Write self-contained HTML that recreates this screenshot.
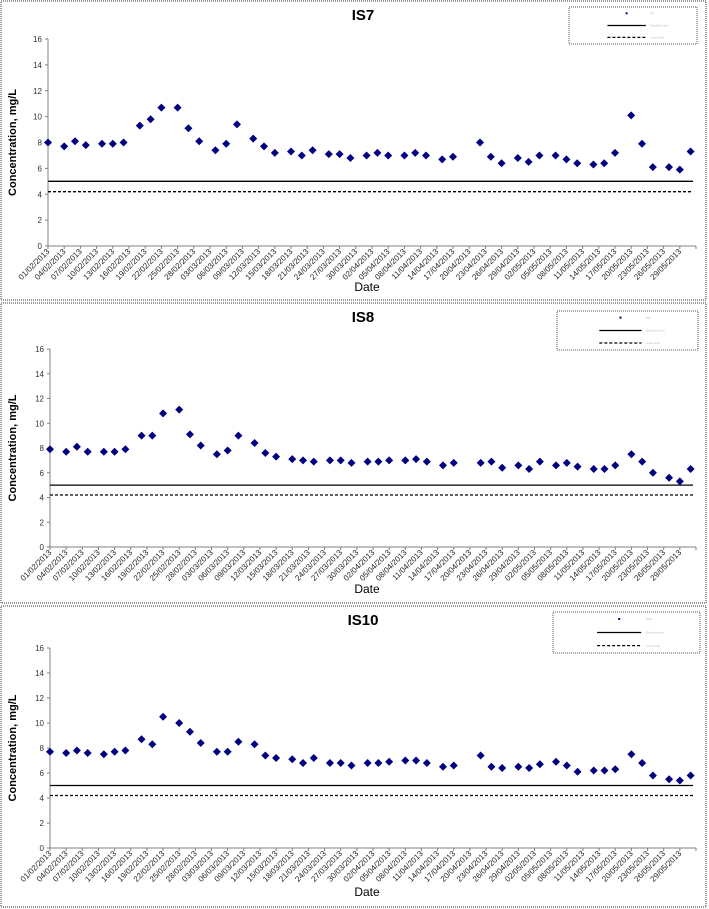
<!DOCTYPE html>
<html><head><meta charset="utf-8"><style>
body{margin:0;background:#fff;width:709px;height:909px;overflow:hidden;font-family:"Liberation Sans",Arial,sans-serif}
svg{display:block}
</style></head><body>
<svg id="svg" width="709" height="909" xmlns="http://www.w3.org/2000/svg"></svg>
<script>
// Data: day offsets from 01/02/2013 and concentrations
const is7Days=[0,3,5,7,10,12,14,17,19,21,24,26,28,31,33,35,38,40,42,45,47,49,52,54,56,59,61,63,66,68,70,73,75,80,82,84,87,89,91,94,96,98,101,103,105,108,110,112,115,117,119];
const is7Vals=[8.0,7.7,8.1,7.8,7.9,7.9,8.0,9.3,9.8,10.7,10.7,9.1,8.1,7.4,7.9,9.4,8.3,7.7,7.2,7.3,7.0,7.4,7.1,7.1,6.8,7.0,7.2,7.0,7.0,7.2,7.0,6.7,6.9,8.0,6.9,6.4,6.8,6.5,7.0,7.0,6.7,6.4,6.3,6.4,7.2,10.1,7.9,6.1,6.1,5.9,7.3];
const is8Days=[0,3,5,7,10,12,14,17,19,21,24,26,28,31,33,35,38,40,42,45,47,49,52,54,56,59,61,63,66,68,70,73,75,80,82,84,87,89,91,94,96,98,101,103,105,108,110,112,115,117,119];
const is8Vals=[7.9,7.7,8.1,7.7,7.7,7.7,7.9,9.0,9.0,10.8,11.1,9.1,8.2,7.5,7.8,9.0,8.4,7.6,7.3,7.1,7.0,6.9,7.0,7.0,6.8,6.9,6.9,7.0,7.0,7.1,6.9,6.6,6.8,6.8,6.9,6.4,6.6,6.3,6.9,6.6,6.8,6.5,6.3,6.3,6.6,7.5,6.9,6.0,5.6,5.3,6.3];
const is10Days=[0,3,5,7,10,12,14,17,19,21,24,26,28,31,33,35,38,40,42,45,47,49,52,54,56,59,61,63,66,68,70,73,75,80,82,84,87,89,91,94,96,98,101,103,105,108,110,112,115,117,119];
const is10Vals=[7.7,7.6,7.8,7.6,7.5,7.7,7.8,8.7,8.3,10.5,10.0,9.3,8.4,7.7,7.7,8.5,8.3,7.4,7.2,7.1,6.8,7.2,6.8,6.8,6.6,6.8,6.8,6.9,7.0,7.0,6.8,6.5,6.6,7.4,6.5,6.4,6.5,6.4,6.7,6.9,6.6,6.1,6.2,6.2,6.3,7.5,6.8,5.8,5.5,5.4,5.8];
const yTicks=[0,2,4,6,8,10,12,14,16];
const limitSolid=5.0;
const limitDashed=4.2;
const tickLabels=(()=>{const a=[];const base=new Date(Date.UTC(2013,1,1));for(let d=0;d<=117;d+=3){const t=new Date(base.getTime()+d*864e5);a.push(String(t.getUTCDate()).padStart(2,'0')+'/'+String(t.getUTCMonth()+1).padStart(2,'0')+'/2013');}return a;})();

const NS='http://www.w3.org/2000/svg';
const svg=document.getElementById('svg');
function mk(tag,attrs,parent){const e=document.createElementNS(NS,tag);for(const k in attrs)e.setAttribute(k,attrs[k]);(parent||svg).appendChild(e);return e;}

const panels=[
 {title:'IS7',days:is7Days,vals:is7Vals,top:0,bot:301,x0:48,x1:696,y16:39,y0:246,leg:[569,7,128,37],tx:363},
 {title:'IS8',days:is8Days,vals:is8Vals,top:302,bot:604,x0:50,x1:696,y16:349,y0:547,leg:[557,311,141,39],tx:363},
 {title:'IS10',days:is10Days,vals:is10Vals,top:605,bot:908,x0:50,x1:696,y16:648,y0:848,leg:[553,612,147,41],tx:363}
];
panels.forEach((p,pi)=>{
 const g=mk('g',{});
 
 
 const fr=mk('rect',{x:1,y:p.top+1,width:705,height:p.bot-p.top-2,fill:'#fff',stroke:'#333','stroke-width':1,'stroke-dasharray':'1,1'},g);
 
 
 const xs=d=>p.x0+(p.x1-p.x0)*d/120;
 const ys=v=>p.y0-(p.y0-p.y16)*v/16;
 const t=mk('text',{x:p.tx,y:p.top+20,'font-size':'15','font-weight':'bold','text-anchor':'middle'},g);t.textContent=p.title;
 
 
 const ya=mk('line',{x1:p.x0,y1:p.y16,x2:p.x0,y2:p.y0,stroke:'#808080'},g);
 
 
 const xa=mk('line',{x1:p.x0,y1:p.y0,x2:p.x1,y2:p.y0,stroke:'#808080'},g);
 
 
 yTicks.forEach(v=>{
  mk('line',{x1:p.x0-3,y1:ys(v),x2:p.x0,y2:ys(v),stroke:'#808080'},g);
  const l=mk('text',{x:p.x0-6,y:ys(v)+3,'font-size':'8','text-anchor':'end',fill:'#333'},g);l.textContent=v;
  
  
 });
 for(let d=0;d<=120;d+=3) mk('line',{x1:xs(d),y1:p.y0,x2:xs(d),y2:p.y0+3,stroke:'#808080'},g);
 tickLabels.forEach((s,i)=>{
  const x=xs(i*3)+2,y=p.y0+6;
  const l=mk('text',{x:x,y:y,'font-size':'8','text-anchor':'end',fill:'#222',transform:`rotate(-45 ${x} ${y})`},g);l.textContent=s;
  
  
 });
 const xt=mk('text',{x:367,y:p.top+291,'font-size':'12','text-anchor':'middle'},g);xt.textContent='Date';
 
 
 const cy=(p.y16+p.y0)/2;
 const yt=mk('text',{x:16,y:cy,'font-size':'11','font-weight':'bold','text-anchor':'middle',transform:`rotate(-90 16 ${cy})`},g);yt.textContent='Concentration, mg/L';
 
 
 const ls=mk('line',{x1:p.x0,y1:ys(limitSolid),x2:p.x1-3,y2:ys(limitSolid),stroke:'#000','stroke-width':1.3},g);
 
 
 const ld=mk('line',{x1:p.x0,y1:ys(limitDashed),x2:p.x1-3,y2:ys(limitDashed),stroke:'#000','stroke-width':1.3,'stroke-dasharray':'3,2'},g);
 
 
 p.days.forEach((d,i)=>{
  const x=xs(d),y=ys(p.vals[i]);
  const m=mk('polygon',{points:`${x},${y-4} ${x+4},${y} ${x},${y+4} ${x-4},${y}`,fill:'#000080'},g);
  
  
 });
 const [lx,ly,lw,lh]=p.leg;
 const lg=mk('g',{},g);
 
 
 mk('rect',{x:lx,y:ly,width:lw,height:lh,fill:'#fff',stroke:'#555','stroke-dasharray':'1,1'},lg);
 const mx=lx+lw*0.45;
 mk('rect',{x:mx-1,y:ly+lh*0.17-1,width:2,height:2,fill:'#000080'},lg);
 mk('line',{x1:lx+lw*0.3,y1:ly+lh*0.5,x2:lx+lw*0.6,y2:ly+lh*0.5,stroke:'#000','stroke-width':1.2},lg);
 mk('line',{x1:lx+lw*0.3,y1:ly+lh*0.82,x2:lx+lw*0.6,y2:ly+lh*0.82,stroke:'#000','stroke-width':1.2,'stroke-dasharray':'3,2'},lg);
 [[p.title,0.2],['Guideline limit',0.53],['Lower limit',0.85]].forEach(([s,f])=>{
  const tt=mk('text',{x:lx+lw*0.63,y:ly+lh*f,'font-size':'3',fill:'#bbb'},lg);tt.textContent=s;
 });
});
</script>
</body></html>
